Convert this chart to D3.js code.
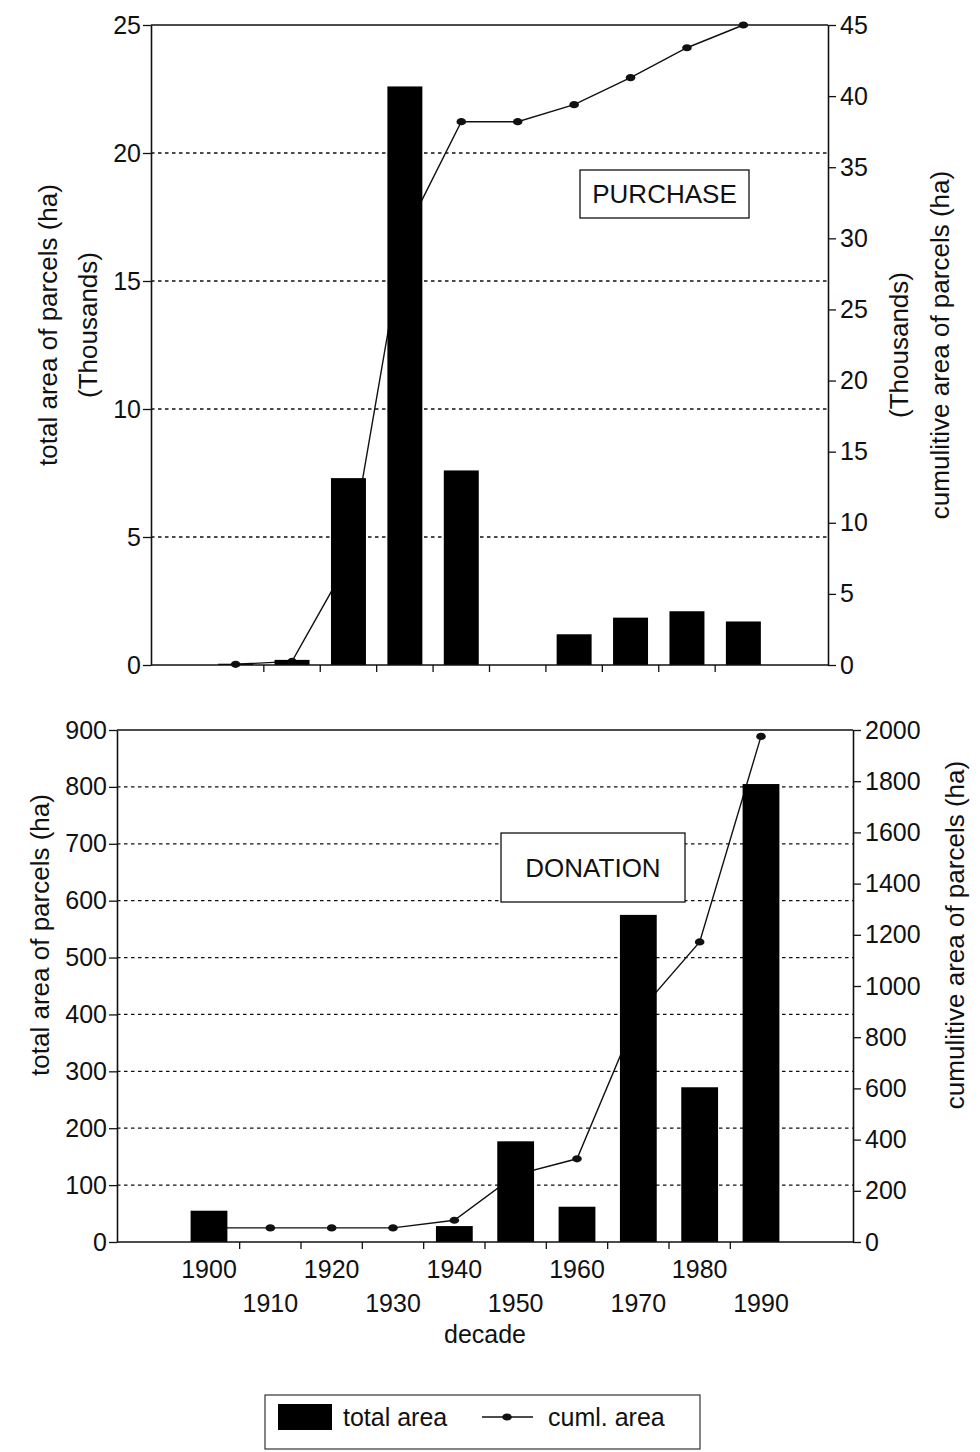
<!DOCTYPE html>
<html>
<head>
<meta charset="utf-8">
<script src="https://cdn.jsdelivr.net/npm/d3@7/dist/d3.min.js"></script>
<style>
  body { margin: 0; background: #fff; }
  svg text { font-family: "Liberation Sans", Arial, Helvetica, sans-serif; fill: #111; }
</style>
</head>
<body>
<svg id="chart" width="980" height="1452"></svg>
<script>
// Decades on the category axis
const decades = ["1900", "1910", "1920", "1930", "1940", "1950", "1960", "1970", "1980", "1990"];

// Purchased parcels (thousands of ha)
const purchaseTotal = [0.05, 0.2, 7.3, 22.6, 7.6, 0, 1.2, 1.85, 2.1, 1.7];
const purchaseCumul = [0.05, 0.25, 7.3, 30.3, 38.2, 38.2, 39.4, 41.3, 43.4, 45.0];

// Donated parcels (ha)
const donationTotal = [55, 0, 0, 0, 28, 177, 62, 575, 272, 805];
const donationCumul = [55, 55, 55, 55, 85, 262, 325, 895, 1172, 1975];

// Tick values
const purchaseLeftTicks = [0, 5, 10, 15, 20, 25];
const purchaseRightTicks = [0, 5, 10, 15, 20, 25, 30, 35, 40, 45];
const donationLeftTicks = [0, 100, 200, 300, 400, 500, 600, 700, 800, 900];
const donationRightTicks = [0, 200, 400, 600, 800, 1000, 1200, 1400, 1600, 1800, 2000];

const svg = d3.select("#chart");
const INK = "#111";
const plain = d3.format("d");

function drawPanel(cfg) {
  const g = svg.append("g");
  const x = d3.scaleBand().domain(decades).range([cfg.x0, cfg.x1])
    .paddingInner(0).paddingOuter(1);
  const step = x.step();
  const cx = d => x(d) + step / 2;
  const yL = d3.scaleLinear().domain([0, d3.max(cfg.leftTicks)]).range([cfg.y1, cfg.y0]);
  const yR = d3.scaleLinear().domain([0, d3.max(cfg.rightTicks)]).range([cfg.y1, cfg.y0]);

  // dashed gridlines on the left-axis ticks
  g.append("g").selectAll("line")
    .data(cfg.leftTicks.filter(v => v > 0 && v < d3.max(cfg.leftTicks)))
    .join("line")
    .attr("x1", cfg.x0).attr("x2", cfg.x1)
    .attr("y1", d => yL(d)).attr("y2", d => yL(d))
    .attr("stroke", INK).attr("stroke-width", 1.3)
    .attr("stroke-dasharray", "3.5,3.5");

  // top frame line
  g.append("line")
    .attr("x1", cfg.x0).attr("x2", cfg.x1)
    .attr("y1", cfg.y0).attr("y2", cfg.y0)
    .attr("stroke", INK).attr("stroke-width", 1.6);

  // cumulative line with markers (drawn underneath the bars)
  const pts = decades.map((d, i) => [cx(d), yR(cfg.cumul[i])]);
  g.append("path")
    .attr("d", d3.line()(pts))
    .attr("fill", "none").attr("stroke", INK).attr("stroke-width", 1.4);
  g.append("g").selectAll("ellipse")
    .data(pts).join("ellipse")
    .attr("cx", d => d[0]).attr("cy", d => d[1])
    .attr("rx", 4.8).attr("ry", 3.6).attr("fill", INK);

  // bars of total area
  const bw = step * cfg.barRatio;
  g.append("g").selectAll("rect")
    .data(decades.map((d, i) => ({ d, v: cfg.total[i] })))
    .join("rect")
    .attr("x", o => cx(o.d) - bw / 2)
    .attr("width", bw)
    .attr("y", o => yL(o.v))
    .attr("height", o => cfg.y1 - yL(o.v))
    .attr("fill", "#000");

  // bottom axis line and ticks between decades
  g.append("line")
    .attr("x1", cfg.x0).attr("x2", cfg.x1)
    .attr("y1", cfg.y1).attr("y2", cfg.y1)
    .attr("stroke", INK).attr("stroke-width", 1.6);
  g.append("g").selectAll("line")
    .data(decades.slice(1))
    .join("line")
    .attr("x1", d => x(d)).attr("x2", d => x(d))
    .attr("y1", cfg.y1).attr("y2", cfg.y1 + 7)
    .attr("stroke", INK).attr("stroke-width", 1.3);

  // left and right value axes
  const left = g.append("g").attr("transform", `translate(${cfg.x0},0)`)
    .call(d3.axisLeft(yL).tickValues(cfg.leftTicks).tickFormat(plain)
      .tickSize(8).tickSizeOuter(0).tickPadding(2));
  const right = g.append("g").attr("transform", `translate(${cfg.x1},0)`)
    .call(d3.axisRight(yR).tickValues(cfg.rightTicks).tickFormat(plain)
      .tickSize(8).tickSizeOuter(0).tickPadding(4));
  [left, right].forEach(a => {
    a.select(".domain").attr("stroke", INK).attr("stroke-width", 1.6);
    a.selectAll(".tick line").attr("stroke", INK).attr("stroke-width", 1.3);
    a.selectAll(".tick text").attr("font-size", 25).attr("fill", INK)
      .attr("font-family", "Liberation Sans, Arial, sans-serif");
  });

  // decade labels on two staggered rows
  if (cfg.xLabels) {
    g.append("g").selectAll("text")
      .data(decades).join("text")
      .attr("x", d => cx(d))
      .attr("y", (d, i) => i % 2 === 0 ? cfg.y1 + 36 : cfg.y1 + 70)
      .attr("text-anchor", "middle")
      .attr("font-size", 25)
      .text(d => d);
    g.append("text")
      .attr("x", (cfg.x0 + cfg.x1) / 2).attr("y", cfg.y1 + 101)
      .attr("text-anchor", "middle").attr("font-size", 25)
      .text("decade");
  }

  // rotated axis titles
  const title = (lines, xs, yc) => {
    lines.forEach((t, i) => {
      g.append("text")
        .attr("transform", `translate(${xs[i]},${yc}) rotate(-90)`)
        .attr("text-anchor", "middle")
        .attr("dominant-baseline", "central")
        .attr("font-size", 26)
        .text(t);
    });
  };
  title(cfg.leftTitle, cfg.leftTitleX, cfg.leftTitleY);
  title(cfg.rightTitle, cfg.rightTitleX, cfg.rightTitleY);

  // boxed panel label
  const b = cfg.box;
  g.append("rect")
    .attr("x", b.x).attr("y", b.y).attr("width", b.w).attr("height", b.h)
    .attr("fill", "#fff").attr("stroke", INK).attr("stroke-width", 1.3);
  g.append("text")
    .attr("x", b.x + b.w / 2).attr("y", b.y + b.h / 2)
    .attr("text-anchor", "middle").attr("dominant-baseline", "central")
    .attr("font-size", 26)
    .text(b.text);
}

drawPanel({
  x0: 151, x1: 828, y0: 25, y1: 665,
  total: purchaseTotal, cumul: purchaseCumul,
  leftTicks: purchaseLeftTicks, rightTicks: purchaseRightTicks,
  barRatio: 0.62, xLabels: false,
  leftTitle: ["total area of parcels (ha)", "(Thousands)"], leftTitleX: [48, 88], leftTitleY: 325,
  rightTitle: ["(Thousands)", "cumulitive area of parcels (ha)"], rightTitleX: [899, 940], rightTitleY: 345,
  box: { x: 580, y: 170, w: 169, h: 48, text: "PURCHASE" }
});

drawPanel({
  x0: 117, x1: 853, y0: 730, y1: 1242,
  total: donationTotal, cumul: donationCumul,
  leftTicks: donationLeftTicks, rightTicks: donationRightTicks,
  barRatio: 0.6, xLabels: true,
  leftTitle: ["total area of parcels (ha)"], leftTitleX: [40], leftTitleY: 935,
  rightTitle: ["cumulitive area of parcels (ha)"], rightTitleX: [955], rightTitleY: 935,
  box: { x: 501, y: 833, w: 184, h: 69, text: "DONATION" }
});

// legend
const lg = svg.append("g");
lg.append("rect")
  .attr("x", 265).attr("y", 1395).attr("width", 435).attr("height", 54)
  .attr("fill", "#fff").attr("stroke", "#333").attr("stroke-width", 1.2);
lg.append("rect")
  .attr("x", 278).attr("y", 1404).attr("width", 54).attr("height", 26).attr("fill", "#000");
lg.append("text").attr("x", 343).attr("y", 1426).attr("font-size", 25).text("total area");
lg.append("line")
  .attr("x1", 482).attr("x2", 533).attr("y1", 1417).attr("y2", 1417)
  .attr("stroke", INK).attr("stroke-width", 1.4);
lg.append("ellipse").attr("cx", 507).attr("cy", 1417).attr("rx", 4.8).attr("ry", 3.6).attr("fill", INK);
lg.append("text").attr("x", 548).attr("y", 1426).attr("font-size", 25).text("cuml. area");
</script>
</body>
</html>
